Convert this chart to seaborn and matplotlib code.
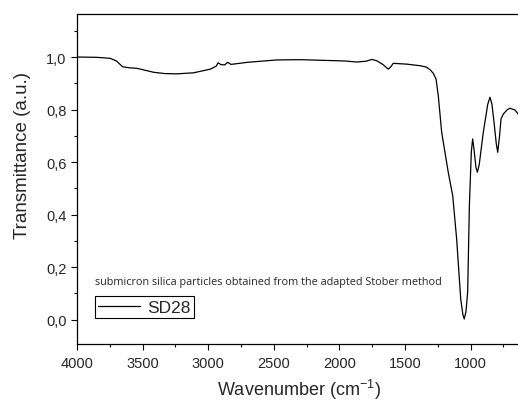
import numpy as np
import pandas as pd
import matplotlib
matplotlib.use('Agg')
import matplotlib.pyplot as plt
import matplotlib.ticker as mticker
import seaborn as sns

# FTIR spectrum (wavenumber in cm-1, transmittance a.u.)
wavenumber = [4000, 3850, 3746, 3700, 3652, 3600, 3543, 3416, 3330, 3238, 3111, 2984,
              2940, 2925, 2912, 2903, 2875, 2852, 2840, 2826, 2700, 2476, 2300, 2095,
              1960, 1866, 1800, 1752, 1716, 1670, 1628, 1610, 1590, 1488, 1386, 1340,
              1310, 1285, 1264, 1247, 1221, 1171, 1137, 1107, 1076, 1060, 1049, 1036,
              1023, 1010, 995, 985, 975, 960, 949, 935, 904, 870, 853, 838, 822,
              805, 794, 780, 769, 751, 720, 700, 662, 639]
transmittance = [1.000, 0.999, 0.995, 0.985, 0.963, 0.959, 0.957, 0.942, 0.937, 0.936, 0.940, 0.954,
                 0.965, 0.978, 0.974, 0.971, 0.970, 0.980, 0.976, 0.972, 0.980, 0.989, 0.990, 0.987,
                 0.985, 0.981, 0.984, 0.991, 0.986, 0.972, 0.954, 0.962, 0.976, 0.973, 0.967, 0.962,
                 0.952, 0.938, 0.916, 0.853, 0.713, 0.561, 0.472, 0.307, 0.078, 0.020, 0.002, 0.030,
                 0.105, 0.434, 0.640, 0.688, 0.650, 0.580, 0.561, 0.590, 0.713, 0.820, 0.847, 0.820, 0.751,
                 0.670, 0.637, 0.700, 0.764, 0.783, 0.800, 0.805, 0.798, 0.783]

df = pd.DataFrame({'wn': wavenumber, 'T': transmittance})

sns.set_style('ticks')
plt.rcParams['font.family'] = ['Liberation Sans', 'DejaVu Sans']

fig = plt.figure(figsize=(5.18, 4.02), dpi=100)
ax = fig.add_axes([77 / 518, 1 - 345 / 402, 1.01 - 77 / 518, (345 - 15) / 402])

sns.lineplot(data=df, x='wn', y='T', color='black', linewidth=0.9, sort=False,
             estimator=None, label='SD28', ax=ax)

ax.set_xlim(4000, 600)
ax.set_ylim(-0.0933, 1.164)
ax.xaxis.set_major_locator(mticker.MultipleLocator(500))
ax.xaxis.set_minor_locator(mticker.MultipleLocator(250))
ax.yaxis.set_major_locator(mticker.MultipleLocator(0.2))
ax.yaxis.set_minor_locator(mticker.MultipleLocator(0.1))
ax.yaxis.set_major_formatter(mticker.FuncFormatter(lambda v, p: f'{v:.1f}'.replace('.', ',').replace('-0,0', '0,0')))
ax.tick_params(which='both', direction='out', color='black', labelsize=10.5, width=0.8)
ax.tick_params(which='major', length=4)
ax.tick_params(which='minor', length=2.5)
ax.tick_params(axis='x', pad=5)
for s in ax.spines.values():
    s.set_color('black')
    s.set_linewidth(0.9)

# label positions in axes fraction (width 446 px, height 330 px)
ax.set_xlabel('Wavenumber (cm$^{\\mathregular{-1}}$)', fontsize=13, va='center')
ax.set_ylabel('Transmittance (a.u.)', fontsize=13.5, va='center')
ax.xaxis.set_label_coords(0.498, -0.136)
ax.yaxis.set_label_coords(-0.123, 0.575)

leg = ax.legend(loc='upper left', bbox_to_anchor=(95 / 518, 1 - 297 / 402),
                bbox_transform=fig.transFigure, borderaxespad=0, fancybox=False,
                edgecolor='black', framealpha=1, fontsize=12.5, handlelength=2.4,
                handletextpad=0.4, borderpad=0.2)
leg.get_frame().set_linewidth(0.8)

fig.text(95 / 518, 1 - 282 / 402, 'submicron silica particles obtained from the adapted Stober method',
         fontsize=7.8, family='Open Sans', va='center', ha='left')

fig.savefig('out.png', dpi=100)
